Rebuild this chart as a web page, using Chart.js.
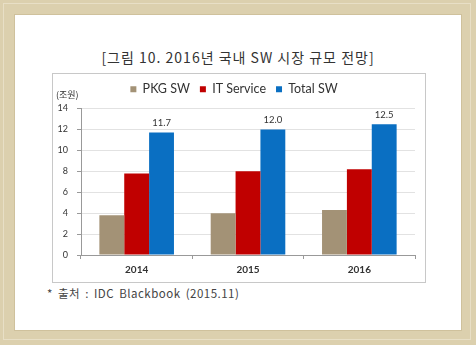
<!DOCTYPE html>
<html>
<head>
<meta charset="utf-8">
<script src="https://cdn.jsdelivr.net/npm/chart.js@4/dist/chart.umd.min.js"></script>
<style>
  html, body { margin: 0; padding: 0; }
  body { width: 476px; height: 345px; background: #dcd0ae; position: relative; overflow: hidden; font-family: "Noto Sans CJK KR", "Noto Sans", sans-serif; }
  .frame { position: absolute; left: 3px; top: 3px; width: 468px; height: 337px; border: 1px solid #e8dfc6; box-sizing: border-box; }
  .panel { position: absolute; left: 15px; top: 15px; width: 446px; height: 315px; background: #fff; box-shadow: 0 0 0 1px #cfc19c; }
  .title { position: absolute; left: 0; width: 476px; top: 47px; text-align: center; font-size: 14px; color: #333; letter-spacing: 1px; }
  .box { position: absolute; left: 52px; top: 73px; width: 374px; height: 210px; border: 1px solid #c8c8c8; box-sizing: border-box; background: #fff; }
  .note { position: absolute; left: 47px; top: 285px; font-size: 11.5px; color: #444; letter-spacing: 0.5px; word-spacing: 2px; }
  canvas { display: block; }
</style>
</head>
<body>
<div class="frame"></div>
<div class="panel"></div>
<div class="title">[그림 10. 2016년 국내 SW 시장 규모 전망]</div>
<div class="box"><canvas id="c" width="372" height="208"></canvas></div>
<div class="note">* 출처 : IDC Blackbook (2015.11)</div>
<script>
const years = ['2014', '2015', '2016'];
const pkgSW = [3.8, 4.0, 4.3];
const itService = [7.8, 8.0, 8.2];
const totalSW = [11.7, 12.0, 12.5];
const yTicks = [0, 2, 4, 6, 8, 10, 12, 14];
const unitLabel = '(조원)';

const FONT = 'Lato, "Open Sans", sans-serif';

// value labels above the Total SW bars, plus the unit caption
const extras = {
  id: 'extras',
  afterDatasetsDraw(chart) {
    const ctx = chart.ctx;
    ctx.save();
    ctx.fillStyle = '#333';
    ctx.font = '9.5px ' + FONT;
    ctx.textAlign = 'center';
    ctx.textBaseline = 'bottom';
    const meta = chart.getDatasetMeta(2);
    meta.data.forEach((bar, i) => {
      ctx.fillText(totalSW[i].toFixed(1), bar.x, bar.y - 5);
    });
    ctx.font = '9px "Noto Sans CJK KR", sans-serif';
    ctx.textAlign = 'left';
    ctx.textBaseline = 'middle';
    ctx.fillText(unitLabel, 3, 21);
    ctx.restore();
  }
};

new Chart(document.getElementById('c'), {
  type: 'bar',
  data: {
    labels: years,
    datasets: [
      { label: 'PKG SW', data: pkgSW, backgroundColor: '#a39276' },
      { label: 'IT Service', data: itService, backgroundColor: '#c00000' },
      { label: 'Total SW', data: totalSW, backgroundColor: '#0a6fc2' }
    ]
  },
  options: {
    responsive: false,
    animation: false,
    layout: { padding: { top: -1, right: 10, left: 0, bottom: 2 } },
    datasets: { bar: { categoryPercentage: 0.67, barPercentage: 1.0 } },
    plugins: {
      legend: {
        position: 'top',
        labels: { boxWidth: 6, boxHeight: 6, padding: 10, color: '#333', font: { family: FONT, size: 12.5 } }
      },
      tooltip: { enabled: false }
    },
    scales: {
      x: {
        afterFit(s) { s.height = 25; },
        grid: { offset: true, drawOnChartArea: false, tickLength: 4, tickColor: '#999' },
        border: { color: '#999' },
        ticks: { color: '#333', padding: 5, font: { family: FONT, size: 10, weight: 'bold' } }
      },
      // empty strip between the legend and the plot
      gap: {
        type: 'category',
        position: 'top',
        afterFit(s) { s.height = 3; },
        grid: { display: false },
        border: { display: false },
        ticks: { display: false }
      },
      y: {
        min: 0, max: 14,
        afterBuildTicks(s) { s.ticks = yTicks.map(v => ({ value: v })); },
        afterFit(s) { s.width = 28; },
        grid: { color: '#e2e2e2', tickLength: 4, tickColor: '#999' },
        border: { color: '#999' },
        ticks: { color: '#333', padding: 9, font: { family: FONT, size: 9 } }
      }
    }
  },
  plugins: [extras]
});
</script>
</body>
</html>
